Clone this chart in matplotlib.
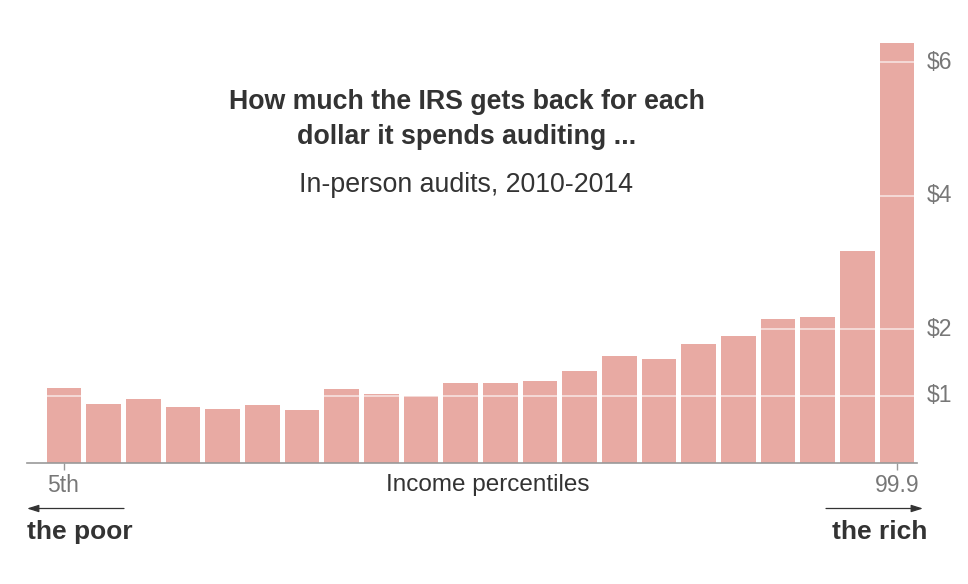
import matplotlib.pyplot as plt
from matplotlib.patches import FancyArrowPatch
import numpy as np

# IRS return per audit dollar, by income percentile group (5th ... 99.9th)
returns = [1.12, 0.88, 0.95, 0.84, 0.81, 0.87, 0.79, 1.10, 1.03, 1.00, 1.20,
           1.19, 1.22, 1.38, 1.60, 1.56, 1.78, 1.90, 2.15, 2.19, 3.17, 6.29]
grid_vals = [1, 2, 4, 6]
grid_labels = ["$1", "$2", "$4", "$6"]

bar_color = "#e8aaa3"
text_dark = "#333333"
text_gray = "#777777"
axis_gray = "#999999"

W, H = 968, 584
fig = plt.figure(figsize=(W / 100, H / 100), dpi=100)
plt.rcParams["font.family"] = ["Liberation Sans", "DejaVu Sans"]

# axes placed in pixel terms: x from 27 to 918, baseline at y=462.7
left_px, right_px = 27, 917
base_px, top_px = 462.7, 20
ax = fig.add_axes([left_px / W, (H - base_px) / H,
                   (right_px - left_px) / W, (base_px - top_px) / H])

x = np.arange(len(returns))
step = 39.67
ax.set_xlim((left_px - 64) / step, (right_px - 64) / step)
ax.set_ylim(0, (base_px - top_px) / 66.7)

ax.bar(x, returns, width=0.87, color=bar_color, zorder=1)
for g in grid_vals:
    ax.axhline(g, color="white", lw=1.3, alpha=0.6, zorder=2)

for s in ["top", "right", "left"]:
    ax.spines[s].set_visible(False)
ax.spines["bottom"].set_color(axis_gray)
ax.spines["bottom"].set_linewidth(1.2)
ax.set_yticks([])
ax.set_xticks([0, len(returns) - 1])
ax.set_xticklabels([])
ax.tick_params(axis="x", length=5, color=axis_gray, width=1)

# y labels sit right of the plot
lab_x = 1.0 + 10 / (right_px - left_px)
for g, lab in zip(grid_vals, grid_labels):
    ax.text(lab_x, g, lab, transform=ax.get_yaxis_transform(), ha="left",
            va="center", fontsize=16.5, color=text_gray)

def fx(px):
    return px / W

def fy(py):
    return 1 - py / H

fig.text(fx(467), fy(102), "How much the IRS gets back for each", ha="center",
         va="center", fontsize=19.3, fontweight="bold", color=text_dark)
fig.text(fx(467), fy(137), "dollar it spends auditing ...", ha="center",
         va="center", fontsize=19.3, fontweight="bold", color=text_dark)
fig.text(fx(466), fy(185), "In-person audits, 2010-2014", ha="center",
         va="center", fontsize=19.3, color=text_dark)

fig.text(fx(47), fy(485), "5th", ha="left", va="center", fontsize=16.5,
         color=text_gray)
fig.text(fx(919), fy(485), "99.9", ha="right", va="center", fontsize=16.5,
         color=text_gray)
fig.text(fx(488), fy(485), "Income percentiles", ha="center", va="center",
         fontsize=17.5, color=text_dark)

fig.text(fx(27), fy(532), "the poor", ha="left", va="center", fontsize=19,
         fontweight="bold", color=text_dark)
fig.text(fx(927), fy(532), "the rich", ha="right", va="center", fontsize=19,
         fontweight="bold", color=text_dark)

arrow = dict(arrowstyle="-|>,head_length=0.7,head_width=0.22",
             color=text_dark, lw=0.9, shrinkA=0, shrinkB=0, mutation_scale=10)
fig.patches.append(FancyArrowPatch((fx(124), fy(508.5)), (fx(27), fy(508.5)),
                                   transform=fig.transFigure, **arrow))
fig.patches.append(FancyArrowPatch((fx(826), fy(508.5)), (fx(923), fy(508.5)),
                                   transform=fig.transFigure, **arrow))

fig.savefig("out.png", dpi=100, facecolor="white")
